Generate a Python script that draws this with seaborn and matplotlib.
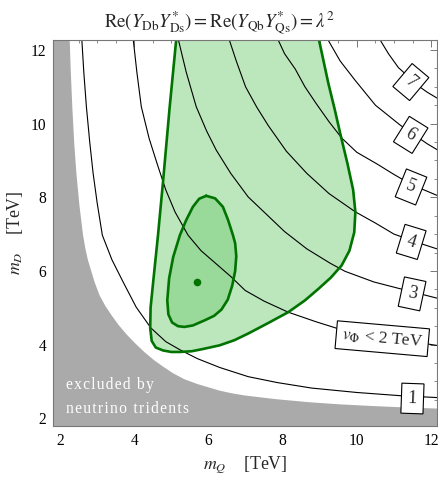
import numpy as np
import pandas as pd
import matplotlib
matplotlib.use("Agg")
import matplotlib.pyplot as plt
from matplotlib.ticker import MultipleLocator
import seaborn as sns

# v_Phi contours [TeV] traced in the (m_Q, m_D) plane
v1_mQ = [2.58, 2.64, 2.71, 2.80, 2.89, 3.00, 3.14, 3.40, 3.70, 4.05, 4.45, 4.85, 5.23, 5.70, 6.30, 7.07, 7.85, 8.78, 10.0, 11.21, 12.4]
v1_mD = [12.4, 11.4, 10.46, 9.5, 8.66, 7.85, 6.97, 6.30, 5.70, 5.02, 4.45, 4.08, 3.86, 3.62, 3.38, 3.13, 2.97, 2.82, 2.70, 2.61, 2.55]
v2_mQ = [3.96, 4.07, 4.19, 4.40, 4.62, 4.85, 5.10, 5.45, 5.80, 6.20, 6.60, 6.99, 7.50, 8.15, 8.90, 9.50, 10.69, 11.50, 12.4]
v2_mD = [12.4, 11.4, 10.46, 9.6, 8.9, 8.2, 7.6, 6.97, 6.55, 6.20, 5.85, 5.47, 5.18, 4.88, 4.62, 4.43, 4.22, 4.08, 3.94]
v3_mQ = [5.16, 5.40, 5.67, 5.95, 6.21, 6.60, 7.07, 7.55, 8.05, 8.65, 9.28, 9.68, 10.46, 11.50, 12.4]
v3_mD = [12.4, 11.4, 10.46, 9.8, 9.28, 8.65, 8.01, 7.55, 7.07, 6.60, 6.21, 5.99, 5.70, 5.43, 5.20]
v4_mQ = [6.52, 6.75, 7.00, 7.30, 7.61, 8.10, 8.65, 9.25, 9.95, 10.50, 11.00, 11.70, 12.4]
v4_mD = [12.4, 11.7, 11.00, 10.45, 9.95, 9.25, 8.65, 8.10, 7.61, 7.30, 7.00, 6.75, 6.52]
v5_mQ = [7.82, 8.05, 8.34, 8.60, 8.90, 9.25, 9.60, 10.0, 10.55, 11.0, 11.48, 12.4]
v5_mD = [12.4, 11.9, 11.48, 11.0, 10.55, 10.05, 9.60, 9.22, 8.90, 8.62, 8.34, 7.95]
v6_mQ = [9.15, 9.55, 9.95, 10.50, 11.18, 11.48, 11.90, 12.4]
v6_mD = [12.4, 11.7, 11.18, 10.50, 9.95, 9.74, 9.45, 9.15]
v7_mQ = [10.55, 10.85, 11.12, 11.33, 11.52, 11.90, 12.4]
v7_mD = [12.4, 11.90, 11.52, 11.33, 11.12, 10.85, 10.55]
contour_labels = ["1", r"$v_{\Phi}$ < 2 TeV", "3", "4", "5", "6", "7"]

# neutrino trident exclusion boundary
trident_mQ = [2.26, 2.26, 2.29, 2.33, 2.38, 2.44, 2.52, 2.62, 2.68, 2.75, 2.84, 2.93, 3.06, 3.22, 3.40, 3.58,
              3.80, 4.03, 4.27, 4.53, 4.78, 5.05, 5.35, 5.70, 6.00, 6.30, 6.62, 6.97, 7.80, 8.66, 9.50, 10.46,
              11.40, 12.27, 12.6]
trident_mD = [12.6, 12.27, 11.40, 10.46, 9.50, 8.66, 7.80, 6.97, 6.62, 6.30, 6.00, 5.70, 5.35, 5.05, 4.78, 4.53,
              4.27, 4.03, 3.80, 3.58, 3.40, 3.22, 3.06, 2.93, 2.84, 2.75, 2.68, 2.62, 2.52, 2.44, 2.38, 2.33,
              2.29, 2.26, 2.26]

# 2 sigma region
sig2_mQ = [5.16, 5.13, 4.95, 4.78, 4.64, 4.51, 4.44, 4.43, 4.47, 4.58, 4.78, 5.00, 5.23, 5.55, 5.85, 6.30, 6.70,
           7.07, 7.60, 8.15, 8.60, 8.96, 9.30, 9.59, 9.80, 9.93, 9.96, 9.90, 9.75, 9.55, 9.40, 9.23, 8.98, 8.95]
sig2_mD = [12.5, 12.27, 10.4, 8.47, 6.97, 5.70, 5.00, 4.45, 4.10, 3.92, 3.84, 3.80, 3.80, 3.82, 3.88, 3.98, 4.12,
           4.30, 4.58, 4.88, 5.20, 5.51, 5.82, 6.15, 6.55, 7.05, 7.60, 8.20, 8.90, 9.74, 10.4, 11.10, 12.27, 12.5]
# 1 sigma region
sig1_mQ = [5.94, 5.75, 5.58, 5.40, 5.23, 5.05, 4.94, 4.89, 4.92, 5.02, 5.18, 5.35, 5.58, 5.90, 6.15, 6.35, 6.52,
           6.64, 6.72, 6.75, 6.72, 6.66, 6.53, 6.39, 6.18]
sig1_mD = [8.04, 7.96, 7.74, 7.38, 6.97, 6.38, 5.80, 5.20, 4.82, 4.60, 4.50, 4.48, 4.52, 4.66, 4.78, 4.95, 5.22,
           5.60, 6.00, 6.40, 6.75, 6.97, 7.38, 7.74, 7.97]
best_fit_mQ = [5.70]
best_fit_mD = [5.70]

sns.set_theme(style="white")
plt.rcParams["font.family"] = ["Liberation Serif", "DejaVu Serif"]
plt.rcParams["mathtext.fontset"] = "stix"

fig = plt.figure(figsize=(4.39, 4.78), dpi=100)
ax = fig.add_axes([53 / 439, 1 - 426 / 478, 384 / 439, 386 / 478])
ax.set_xlim(1.81, 12.16)
ax.set_ylim(1.79, 12.27)

GREEN_EDGE = "#007300"

# excluded region
ax.fill(trident_mQ + [12.6, 1.5, 1.5], trident_mD + [1.5, 1.5, 12.6],
        color="#aaaaaa", lw=0, zorder=1)

# fit regions
ax.fill(sig2_mQ, sig2_mD, color="#bce6bc", lw=0, zorder=2)
ax.fill(sig1_mQ, sig1_mD, color="#99d999", lw=0, zorder=2.5)

# v_Phi contours
curves = [(v1_mQ, v1_mD), (v2_mQ, v2_mD), (v3_mQ, v3_mD), (v4_mQ, v4_mD),
          (v5_mQ, v5_mD), (v6_mQ, v6_mD), (v7_mQ, v7_mD)]
for cx, cy in curves:
    df = pd.DataFrame({"mQ": cx, "mD": cy})
    sns.lineplot(data=df, x="mQ", y="mD", sort=False, estimator=None,
                 color="black", lw=0.8, ax=ax, zorder=3)

# region boundaries
ax.plot(sig2_mQ, sig2_mD, color=GREEN_EDGE, lw=1.9, zorder=4, solid_joinstyle="round")
ax.plot(sig1_mQ + sig1_mQ[:1], sig1_mD + sig1_mD[:1], color=GREEN_EDGE, lw=1.9, zorder=4,
        solid_joinstyle="round")
sns.scatterplot(x=best_fit_mQ, y=best_fit_mD, color=GREEN_EDGE, s=30, linewidth=0,
                ax=ax, zorder=5)

# contour labels
label_pos = [(11.50, 2.59, -2), (10.69, 4.22, -5), (11.50, 5.43, -12), (11.48, 6.84, -17),
             (11.48, 8.33, -22), (11.48, 9.74, -32), (11.49, 11.17, -40)]
for text, (lx, ly, rot) in zip(contour_labels, label_pos):
    is_digit = text.isdigit()
    ax.text(lx, ly, text, fontsize=13 if is_digit else 12.5, rotation=rot,
            rotation_mode="anchor", ha="center", va="center_baseline", zorder=6,
            bbox=dict(boxstyle="square,pad=0.36" if is_digit else "square,pad=0.3",
                      fc="white", ec="black", lw=0.8))

hair = "\u200a"
ax.text(2.15, 2.79, hair.join("excluded by"), color="white", fontsize=11.2,
        va="baseline", ha="left", zorder=6)
ax.text(2.15, 2.14, hair.join("neutrino tridents"), color="white", fontsize=11.2,
        va="baseline", ha="left", zorder=6)

# frame and ticks
for sp in ax.spines.values():
    sp.set_color("#777777")
    sp.set_linewidth(0.8)
    sp.set_zorder(7)
ax.xaxis.set_major_locator(MultipleLocator(2))
ax.yaxis.set_major_locator(MultipleLocator(2))
ax.xaxis.set_minor_locator(MultipleLocator(0.5))
ax.yaxis.set_minor_locator(MultipleLocator(0.5))
ax.tick_params(which="both", direction="in", top=True, right=True,
               color="#777777", labelcolor="black", labelsize=11.2)
ax.tick_params(which="major", length=5, width=0.7, pad=5)
ax.tick_params(which="minor", length=2.5, width=0.6)
ax.set_xlabel(r"$m_{Q}$" + "    [TeV]", fontsize=12.8, labelpad=4)
ax.set_ylabel(r"$m_{D}$" + "    [TeV]", fontsize=12.8, labelpad=4)

fig.text(0.5, 1 - 27 / 478,
         r"$\mathrm{Re}(Y_{\mathrm{Db}}Y^{*}_{\mathrm{Ds}}) = \mathrm{Re}(Y_{\mathrm{Qb}}Y^{*}_{\mathrm{Qs}}) = \lambda^{2}$",
         ha="center", va="baseline", fontsize=13.6)

fig.savefig("out.png", dpi=100)
